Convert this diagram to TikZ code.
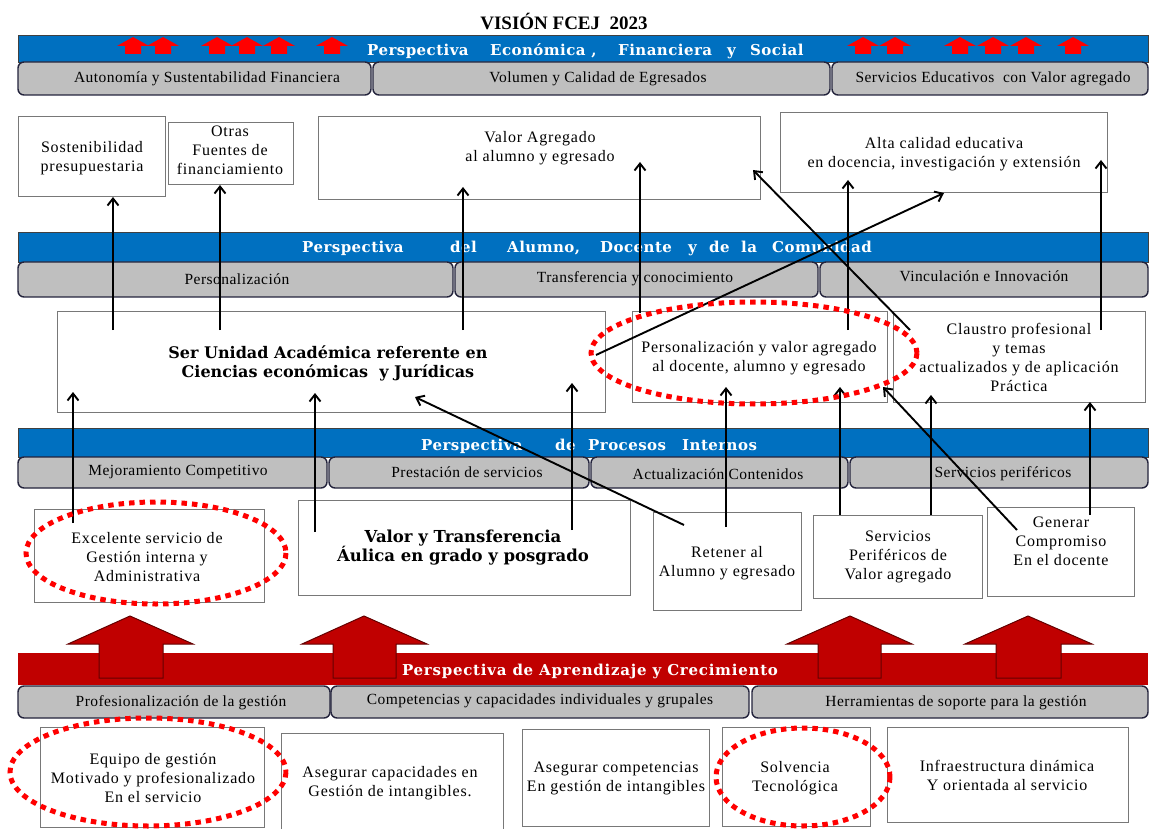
\documentclass[tikz,border=0pt]{standalone}
\usepackage{fontspec}
\setmainfont{Liberation Serif}
\newfontfamily\txtfont[LetterSpace=5]{Liberation Serif}
\newfontfamily\tabfont[LetterSpace=3]{Liberation Serif}
\newfontfamily\bandfont[LetterSpace=3]{DejaVu Serif}
\newfontfamily\redfont[LetterSpace=5]{DejaVu Serif}
\newfontfamily\slabfont{DejaVu Serif}
\usetikzlibrary{arrows.meta}
\definecolor{bandblue}{RGB}{0,112,192}
\definecolor{tabgray}{RGB}{191,191,191}
\definecolor{tabline}{RGB}{35,35,60}
\definecolor{boxline}{RGB}{120,120,120}
\definecolor{bandred}{RGB}{192,0,0}
\definecolor{darkred}{RGB}{100,0,0}
\definecolor{brightred}{RGB}{255,0,0}
\newcommand\fs[2]{\fontsize{#1}{#2}\selectfont}
\newcommand\mkbox[6]{\node[#6, minimum width={#4-#2}, minimum height={#5-#3}, inner sep=0pt] (#1) at ({(#2+#4)/2},{(#3+#5)/2}) {};}
\begin{document}
\begin{tikzpicture}[x=1pt,y=-1pt,
  band/.style={draw=black!75, line width=0.8pt, fill=bandblue},
  tab/.style={draw=tabline, line width=1.4pt, fill=tabgray, rounded corners=6pt},
  box/.style={draw=boxline, line width=1pt, fill=white},
  txt/.style={align=center, inner sep=0pt, font=\txtfont\fs{16}{19}},
  tabtxt/.style={inner sep=0pt, font=\tabfont\fs{15.5}{17}},
  bandtxt/.style={anchor=base west, inner sep=0pt, text=white, font=\bandfont\bfseries\fs{15}{17}},
  slab/.style={align=center, inner sep=0pt, font=\slabfont\bfseries\fs{16}{19}},
  arr/.style={-{Straight Barb[length=7pt,width=11pt]}, line width=1.9pt, black},
  dots/.style={draw=brightred, line width=5pt, dash pattern=on 5.5pt off 5pt},
  bigarrow/.style={fill=bandred, draw=darkred, line width=1pt}]
\useasboundingbox (0,0) rectangle (1152,829);
\fill[white] (0,0) rectangle (1152,829);

% title
\node[anchor=base, inner sep=0pt, font=\bfseries\fs{19}{22}] (title) at (564,30) {VISIÓN FCEJ\ \ 2023};

% ===== row 1: financial perspective
\mkbox{b1}{18}{35}{1148}{62}{band}
\foreach \x in {133,163,217,247,279,332,863,895,960,993,1026,1073}{
  \fill[brightred] ({\x-16},46) -- (\x,37) -- ({\x+16},46) -- ({\x+8},46) -- ({\x+8},54) -- ({\x-8},54) -- ({\x-8},46) -- cycle;}
\node[bandtxt] (b1w1) at (367,56) {Perspectiva};
\node[bandtxt] (b1w2) at (490,56) {Económica ,};
\node[bandtxt] (b1w3) at (618,56) {Financiera};
\node[bandtxt] (b1w4) at (727,56) {y};
\node[bandtxt] (b1w5) at (750,56) {Social};
\mkbox{t11}{18}{62}{371}{95}{tab}
\mkbox{t12}{373}{62}{830}{95}{tab}
\mkbox{t13}{832}{62}{1148}{95}{tab}
\node[tabtxt] (t11t) at (207,79) {Autonomía y Sustentabilidad Financiera};
\node[tabtxt] (t12t) at (598,79) {Volumen y Calidad de Egresados};
\node[tabtxt] (t13t) at (993,79) {Servicios Educativos\ \ con Valor agregado};

% objective boxes row 1
\mkbox{sost}{18}{117}{165}{197}{box}
\mkbox{otras}{168}{123}{293}{185}{box}
\mkbox{valag}{318}{117}{760}{200}{box}
\mkbox{alta}{780}{113}{1107}{193}{box}
\node[txt] (sostt) at (92,158) {Sostenibilidad\\presupuestaria};
\node[txt] (otrast) at (230,150) {Otras\\Fuentes de\\financiamiento};
\node[txt] (valagt) at (540,148) {Valor Agregado\\al alumno y egresado};
\node[txt] (altat) at (944,154) {Alta calidad educativa\\en docencia, investigación y extensión};

% ===== row 2: student perspective
\mkbox{b2}{18}{232}{1148}{262}{band}
\node[bandtxt] (b2w1) at (302,253) {Perspectiva};
\node[bandtxt] (b2w2) at (450,253) {del};
\node[bandtxt] (b2w3) at (507,253) {Alumno,};
\node[bandtxt] (b2w4) at (600,253) {Docente};
\node[bandtxt] (b2w5) at (688,253) {y};
\node[bandtxt] (b2w6) at (709,253) {de};
\node[bandtxt] (b2w7) at (741,253) {la};
\node[bandtxt] (b2w8) at (772,253) {Comunidad};
\mkbox{t21}{18}{262}{453}{297}{tab}
\mkbox{t22}{455}{262}{818}{297}{tab}
\mkbox{t23}{820}{262}{1148}{297}{tab}
\node[tabtxt] (t21t) at (237,279) {Personalización};
\node[tabtxt] (t22t) at (635,279) {Transferencia y conocimiento};
\node[tabtxt] (t23t) at (984,276) {Vinculación e Innovación};

\mkbox{ser}{57}{312}{605}{412}{box}
\mkbox{pers}{632}{312}{887}{402}{box}
\mkbox{claus}{893}{312}{1145}{402}{box}
\node[slab] (sert) at (328,363) {Ser Unidad Académica referente en\\Ciencias económicas\ \ y Jurídicas};
\node[txt] (perst) at (759,358) {Personalización y valor agregado\\al docente, alumno y egresado};
\node[txt] (claust) at (1019,357) {Claustro profesional\\y temas\\actualizados y de aplicación\\Práctica};

% ===== row 3: internal processes
\mkbox{b3}{18}{428}{1148}{457}{band}
\node[bandtxt] (b3w1) at (421,450) {Perspectiva};
\node[bandtxt] (b3w2) at (555,450) {de};
\node[bandtxt] (b3w3) at (588,450) {Procesos};
\node[bandtxt] (b3w4) at (682,450) {Internos};
\mkbox{t31}{18}{457}{327}{488}{tab}
\mkbox{t32}{329}{457}{589}{488}{tab}
\mkbox{t33}{591}{457}{848}{488}{tab}
\mkbox{t34}{850}{457}{1148}{488}{tab}
\node[tabtxt] (t31t) at (178,472) {Mejoramiento Competitivo};
\node[tabtxt] (t32t) at (467,472) {Prestación de servicios};
\node[tabtxt] (t33t) at (718,474) {Actualización Contenidos};
\node[tabtxt] (t34t) at (1003,474) {Servicios periféricos};

\mkbox{exc}{34}{509}{264}{602}{box}
\mkbox{valtr}{298}{500}{630}{595}{box}
\mkbox{ret}{653}{512}{801}{610}{box}
\mkbox{serv}{813}{515}{982}{598}{box}
\mkbox{gen}{987}{507}{1134}{596}{box}
\node[txt] (exct) at (147,557) {Excelente servicio de\\Gestión interna y\\Administrativa};
\node[slab, font=\slabfont\bfseries\fs{16.5}{19}] (valtrt) at (463,548) {Valor y Transferencia\\Áulica en grado y posgrado};
\node[txt] (rett) at (727,563) {Retener al\\Alumno y egresado};
\node[txt] (servt) at (898,557) {Servicios\\Periféricos de\\Valor agregado};
\node[txt] (gent) at (1061,541) {Generar\\Compromiso\\En el docente};

% ===== row 4: learning and growth
\mkbox{b4}{18}{653}{1148}{685}{fill=bandred}
\draw[bigarrow] (99,678) -- (99,644) -- (68,644) -- (130,616) -- (193,644) -- (163,644) -- (163,678) -- cycle;
\draw[bigarrow] (333,678) -- (333,644) -- (302,644) -- (364,616) -- (427,644) -- (396,644) -- (396,678) -- cycle;
\draw[bigarrow] (818,678) -- (818,644) -- (787,644) -- (850,616) -- (912,644) -- (881,644) -- (881,678) -- cycle;
\draw[bigarrow] (996,678) -- (996,644) -- (965,644) -- (1028,616) -- (1092,644) -- (1061,644) -- (1061,678) -- cycle;
\node[bandtxt, font=\redfont\bfseries\fs{15}{17}, anchor=base] (b4t) at (590,675) {Perspectiva de Aprendizaje y Crecimiento};
\mkbox{t41}{18}{686}{330}{718}{tab}
\mkbox{t42}{331}{686}{749}{718}{tab}
\mkbox{t43}{752}{686}{1148}{718}{tab}
\node[tabtxt] (t41t) at (181,703) {Profesionalización de la gestión};
\node[tabtxt] (t42t) at (540,701) {Competencias y capacidades individuales y grupales};
\node[tabtxt] (t43t) at (956,703) {Herramientas de soporte para la gestión};

\mkbox{equ}{40}{727}{264}{827}{box}
\mkbox{asc}{281}{733}{503}{829}{box}
\mkbox{asg}{522}{729}{709}{826}{box}
\mkbox{solv}{722}{727}{870}{826}{box}
\mkbox{infra}{887}{727}{1128}{822}{box}
\node[txt] (equt) at (153,778) {Equipo de gestión\\Motivado y profesionalizado\\En el servicio};
\node[txt] (asct) at (390,783) {Asegurar capacidades en\\Gestión de intangibles.};
\node[txt] (asgt) at (616,778) {Asegurar competencias\\En gestión de intangibles};
\node[txt] (solvt) at (795,778) {Solvencia\\Tecnológica};
\node[txt] (infrat) at (1007,775) {Infraestructura dinámica\\Y orientada al servicio};

% ===== connectors
\coordinate (c1a) at (113,330);  \coordinate (c1b) at (113,197);
\coordinate (c2a) at (220,330);  \coordinate (c2b) at (220,185);
\coordinate (c3a) at (463,330);  \coordinate (c3b) at (463,187);
\coordinate (c4a) at (640,313);  \coordinate (c4b) at (640,162);
\coordinate (c5a) at (848,330);  \coordinate (c5b) at (848,180);
\coordinate (c6a) at (596,355);  \coordinate (c6b) at (944,193);
\coordinate (c7a) at (910,330);  \coordinate (c7b) at (753,170);
\coordinate (c8a) at (1101,330); \coordinate (c8b) at (1101,160);
\coordinate (c9a) at (73,523);   \coordinate (c9b) at (73,392);
\coordinate (c10a) at (315,532); \coordinate (c10b) at (315,393);
\coordinate (c11a) at (684,525); \coordinate (c11b) at (415,397);
\coordinate (c12a) at (572,530); \coordinate (c12b) at (572,383);
\coordinate (c13a) at (726,527); \coordinate (c13b) at (726,387);
\coordinate (c14a) at (840,515); \coordinate (c14b) at (840,387);
\coordinate (c15a) at (1017,530);\coordinate (c15b) at (883,387);
\coordinate (c16a) at (931,515); \coordinate (c16b) at (931,395);
\coordinate (c17a) at (1090,515);\coordinate (c17b) at (1090,402);
\foreach \i in {1,...,17}{\draw[arr] (c\i a) -- (c\i b);}

% ===== dotted highlight ellipses
\draw[dots] (754,353) ellipse [x radius=163, y radius=51];
\draw[dots] (156,553) ellipse [x radius=130, y radius=51];
\draw[dots] (148,772) ellipse [x radius=138, y radius=54];
\draw[dots] (803,777) ellipse [x radius=87, y radius=49];
\end{tikzpicture}
\end{document}
